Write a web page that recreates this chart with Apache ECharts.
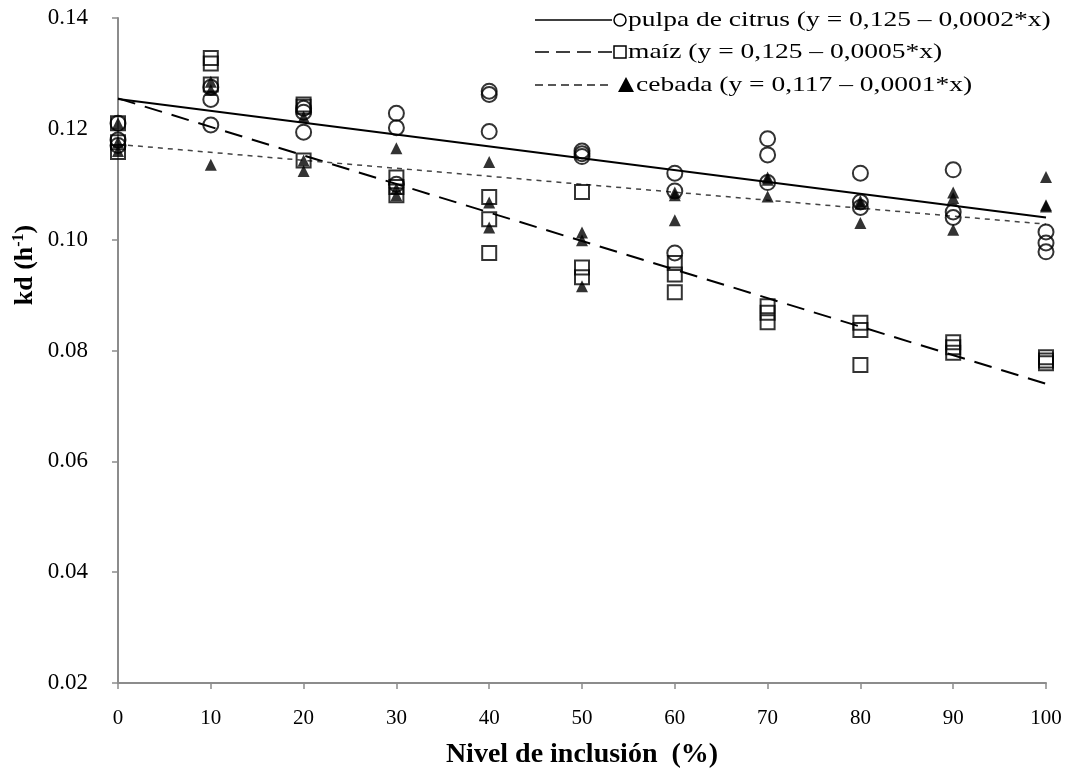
<!DOCTYPE html>
<html>
<head>
<meta charset="utf-8">
<script src="https://cdn.jsdelivr.net/npm/echarts@6.0.0/dist/echarts.min.js"></script>
<style>
  html, body { margin: 0; padding: 0; background: #ffffff; }
  #chart { width: 1075px; height: 776px; }
</style>
</head>
<body>
<div id="chart"></div>
<script>
// Inclusion levels (%) and three replicate kd readings per level
const levels = [0, 10, 20, 30, 40, 50, 60, 70, 80, 90, 100];

const citrusKd = [
  [0.1210, 0.1180, 0.1170],
  [0.1275, 0.1253, 0.1207],
  [0.1237, 0.1230, 0.1194],
  [0.1228, 0.1202, 0.1100],
  [0.1268, 0.1262, 0.1195],
  [0.1160, 0.1155, 0.1150],
  [0.1120, 0.1088, 0.0976],
  [0.1182, 0.1153, 0.1103],
  [0.1120, 0.1068, 0.1058],
  [0.1126, 0.1050, 0.1040],
  [0.1014, 0.0994, 0.0978]
];

const maizKd = [
  [0.1210, 0.1176, 0.1158],
  [0.1328, 0.1318, 0.1280],
  [0.1244, 0.1240, 0.1143],
  [0.1112, 0.1095, 0.1080],
  [0.1077, 0.1037, 0.0976],
  [0.1086, 0.0950, 0.0932],
  [0.0958, 0.0937, 0.0905],
  [0.0880, 0.0868, 0.0851],
  [0.0850, 0.0837, 0.0774],
  [0.0815, 0.0806, 0.0796],
  [0.0788, 0.0782, 0.0777]
];

const cebadaKd = [
  [0.1210, 0.1176, 0.1160],
  [0.1285, 0.1270, 0.1135],
  [0.1222, 0.1143, 0.1124],
  [0.1165, 0.1092, 0.1080],
  [0.1140, 0.1067, 0.1022],
  [0.1013, 0.0999, 0.0916],
  [0.1085, 0.1080, 0.1035],
  [0.1112, 0.1108, 0.1078],
  [0.1070, 0.1065, 0.1030],
  [0.1085, 0.1075, 0.1018],
  [0.1113, 0.1062, 0.1060]
];

// Fitted regression lines, evaluated at both ends of the range
const fitX = [0, 100];
const citrusFit = [0.1254, 0.1040];
const maizFit = [0.1255, 0.0740];
const cebadaFit = [0.1172, 0.1028];

// Axis ticks
const xTicks = { min: 0, max: 100, step: 10 };
const yTicks = { min: 0.02, max: 0.14, step: 0.02 };

// Legend text
const legendLabels = [
  'pulpa de citrus (y = 0,125 – 0,0002*x)',
  'maíz (y = 0,125 – 0,0005*x)',
  'cebada (y = 0,117 – 0,0001*x)'
];

const FONT = '"Liberation Serif", "Times New Roman", serif';

function points(rows) {
  const out = [];
  rows.forEach((vals, i) => vals.forEach(v => out.push([levels[i], v])));
  return out;
}
function fitLine(vals) {
  return fitX.map((x, i) => [x, vals[i]]);
}

const chart = echarts.init(document.getElementById('chart'), null, { renderer: 'canvas' });

const legendX0 = 535, legendX1 = 612;
const rowY = [20, 52, 85];
const legendStretch = 1.31;

chart.setOption({
  animation: false,
  backgroundColor: '#ffffff',
  grid: { left: 118, right: 29, top: 18, bottom: 93, containLabel: false },
  xAxis: {
    type: 'value',
    min: xTicks.min, max: xTicks.max, interval: xTicks.step,
    name: 'Nivel de inclusión  (%)',
    nameLocation: 'middle',
    nameGap: 58,
    nameTextStyle: { fontFamily: FONT, fontSize: 28, fontWeight: 'bold', color: '#000' },
    axisLine: { lineStyle: { color: '#8c8c8c', width: 2 } },
    axisTick: { show: true, inside: false, length: 6, lineStyle: { color: '#8c8c8c', width: 1.5 } },
    axisLabel: { fontFamily: FONT, fontSize: 21, color: '#000', margin: 25 },
    splitLine: { show: false }
  },
  yAxis: {
    type: 'value',
    min: yTicks.min, max: yTicks.max, interval: yTicks.step,
    axisLine: { show: true, lineStyle: { color: '#8c8c8c', width: 2 } },
    axisTick: { show: true, inside: false, length: 6, lineStyle: { color: '#8c8c8c', width: 1.5 } },
    axisLabel: {
      fontFamily: FONT, fontSize: 23, color: '#000', margin: 30,
      formatter: v => v.toFixed(2)
    },
    splitLine: { show: false }
  },
  series: [
    {
      name: 'pulpa de citrus fit', type: 'line', data: fitLine(citrusFit),
      symbol: 'none', z: 2,
      lineStyle: { color: '#000', width: 2, type: 'solid' }
    },
    {
      name: 'maíz fit', type: 'line', data: fitLine(maizFit),
      symbol: 'none', z: 2,
      lineStyle: { color: '#000', width: 2, type: [18, 10] }
    },
    {
      name: 'cebada fit', type: 'line', data: fitLine(cebadaFit),
      symbol: 'none', z: 2,
      lineStyle: { color: '#444', width: 1.5, type: [5, 5] }
    },
    {
      name: 'pulpa de citrus', type: 'scatter', data: points(citrusKd),
      symbol: 'circle', symbolSize: 15, z: 3,
      itemStyle: { color: 'rgba(0,0,0,0)', borderColor: '#000', borderWidth: 2 }
    },
    {
      name: 'maíz', type: 'scatter', data: points(maizKd),
      symbol: 'rect', symbolSize: 14, z: 3,
      itemStyle: { color: 'rgba(0,0,0,0)', borderColor: '#000', borderWidth: 2 }
    },
    {
      name: 'cebada', type: 'scatter', data: points(cebadaKd),
      symbol: 'triangle', symbolSize: 12, z: 4,
      itemStyle: { color: '#000' }
    }
  ],
  graphic: [
    // y-axis title with superscript
    {
      type: 'text', x: 25, y: 265, rotation: Math.PI / 2,
      style: {
        text: '{a|kd (h}{s|-1}{a|)}',
        align: 'center', verticalAlign: 'middle',
        rich: {
          a: { fontFamily: FONT, fontSize: 26, fontWeight: 'bold', fill: '#000' },
          s: { fontFamily: FONT, fontSize: 16, fontWeight: 'bold', fill: '#000', verticalAlign: 'top', padding: [0, 0, 12, 0] }
        }
      }
    },
    // legend row 1
    { type: 'line', shape: { x1: legendX0, y1: rowY[0], x2: legendX1, y2: rowY[0] }, style: { stroke: '#000', lineWidth: 1.5 } },
    { type: 'circle', shape: { cx: 620, cy: rowY[0], r: 6 }, style: { fill: 'none', stroke: '#000', lineWidth: 1.5 } },
    { type: 'text', x: 628, y: rowY[0], scaleX: legendStretch, style: { text: legendLabels[0], font: '21px ' + FONT, fill: '#000', verticalAlign: 'middle' } },
    // legend row 2
    { type: 'line', shape: { x1: legendX0, y1: rowY[1], x2: legendX1, y2: rowY[1] }, style: { stroke: '#000', lineWidth: 1.5, lineDash: [14, 7] } },
    { type: 'rect', shape: { x: 614, y: rowY[1] - 6, width: 12, height: 12 }, style: { fill: 'none', stroke: '#000', lineWidth: 1.5 } },
    { type: 'text', x: 628, y: rowY[1], scaleX: legendStretch, style: { text: legendLabels[1], font: '21px ' + FONT, fill: '#000', verticalAlign: 'middle' } },
    // legend row 3
    { type: 'line', shape: { x1: legendX0, y1: rowY[2], x2: legendX1, y2: rowY[2] }, style: { stroke: '#222', lineWidth: 1.5, lineDash: [8, 5] } },
    { type: 'polygon', shape: { points: [[626, rowY[2] - 8], [634, rowY[2] + 7], [618, rowY[2] + 7]] }, style: { fill: '#000' } },
    { type: 'text', x: 636, y: rowY[2], scaleX: legendStretch, style: { text: legendLabels[2], font: '21px ' + FONT, fill: '#000', verticalAlign: 'middle' } }
  ]
});
</script>
</body>
</html>
